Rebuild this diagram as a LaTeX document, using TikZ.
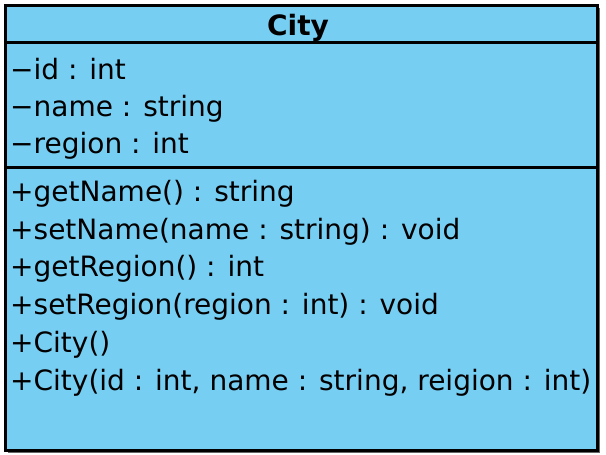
\documentclass[tikz,border=0pt]{standalone}
\usepackage{fontspec}
\setmainfont{DejaVu Sans}
\definecolor{classblue}{RGB}{119,206,243}
\tikzset{
  member/.style={anchor=base west,inner sep=0pt,font=\fontsize{28}{28}\selectfont},
  classname/.style={anchor=base,inner sep=0pt,font=\fontsize{28}{28}\selectfont\bfseries},
  umlrule/.style={line width=3pt}
}
\begin{document}
\begin{tikzpicture}[x=1pt,y=-1pt]
\useasboundingbox (0,0) rectangle (606,455);
% class box
\fill[black!60] (8,8) rectangle (599.5,452.5);
\draw[umlrule,fill=classblue] (5,5) rectangle (597,450);
\draw[umlrule] (5,42) -- (597,42);
\draw[umlrule] (5,167) -- (597,167);
\node[classname] (cls) at (298,35) {City};
% attributes
\node[member] (aid) at (10,79) {−id : int};
\node[member] (aname) at (10,116) {−name : string};
\node[member] (aregion) at (10,153) {−region : int};
% operations
\node[member] (ogetname) at (10,201) {+getName() : string};
\node[member] (osetname) at (10,239) {+setName(name : string) : void};
\node[member] (ogetregion) at (10,276) {+getRegion() : int};
\node[member] (osetregion) at (10,314) {+setRegion(region : int) : void};
\node[member] (octor) at (10,352) {+City()};
\node[member] (octorfull) at (10,390) {+City(id : int, name : string, reigion : int)};
\end{tikzpicture}
\end{document}
